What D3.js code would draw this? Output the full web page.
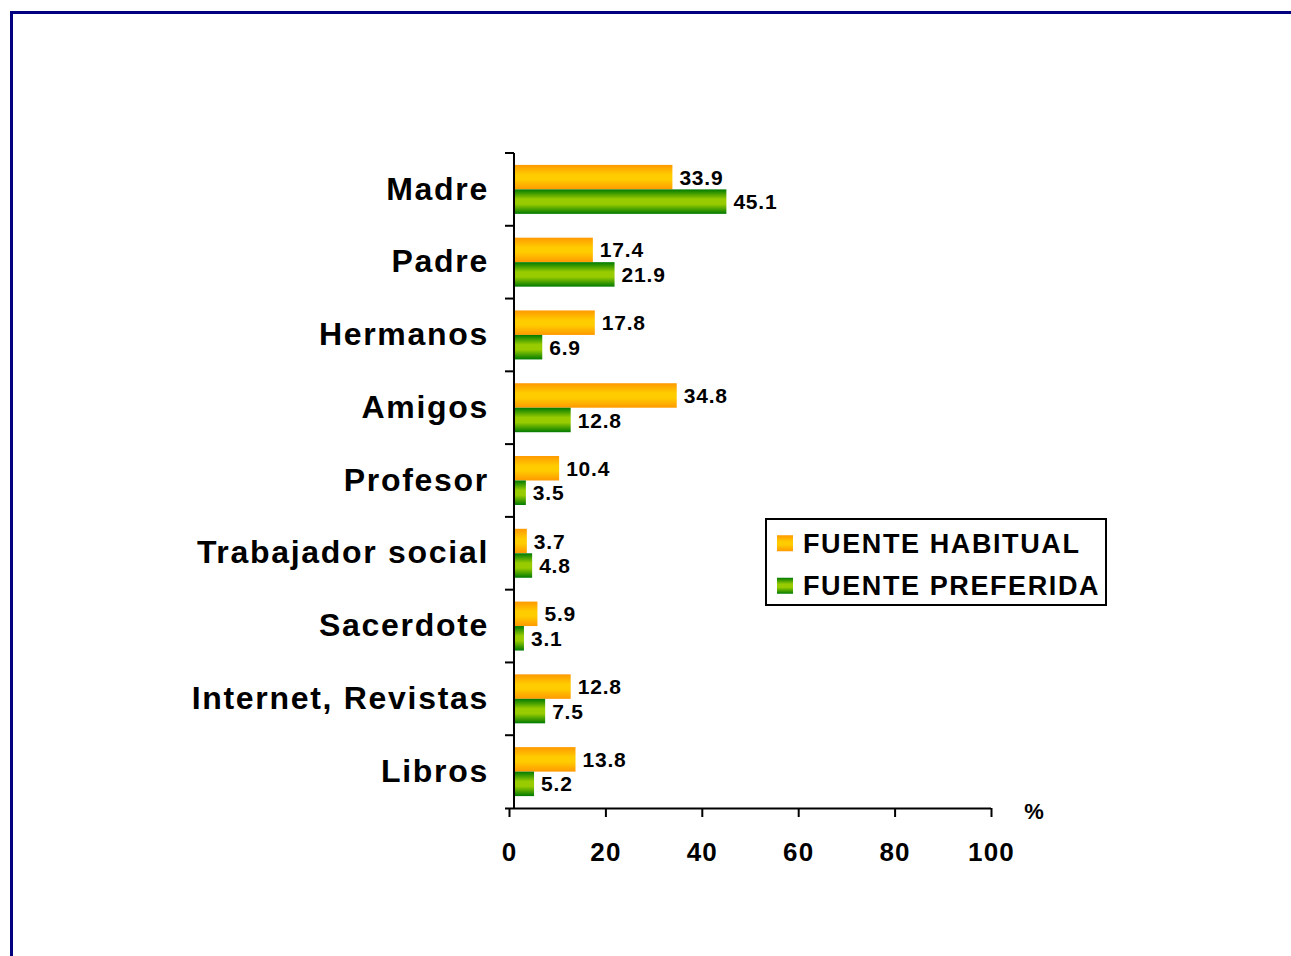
<!DOCTYPE html>
<html>
<head>
<meta charset="utf-8">
<script src="https://cdn.jsdelivr.net/npm/d3@7"></script>
<style>
  html, body { margin: 0; padding: 0; background: #ffffff; }
  svg { display: block; font-family: "Liberation Sans", Arial, sans-serif; font-weight: bold; }
</style>
</head>
<body>
<svg id="chart" width="1291" height="956"></svg>
<script>
const categories = ["Madre", "Padre", "Hermanos", "Amigos", "Profesor", "Trabajador social", "Sacerdote", "Internet, Revistas", "Libros"];
const seriesNames = ["FUENTE HABITUAL", "FUENTE PREFERIDA"];
const habitual = [33.9, 17.4, 17.8, 34.8, 10.4, 3.7, 5.9, 12.8, 13.8];
const preferida = [45.1, 21.9, 6.9, 12.8, 3.5, 4.8, 3.1, 7.5, 5.2];
const xTicks = [0, 20, 40, 60, 80, 100];

const seriesValues = [habitual, preferida];
const gradIds = ["gOrange", "gGreen"];

const svg = d3.select("#chart");

// Frame border (dark navy)
svg.append("path")
  .attr("d", "M11.5,956 L11.5,12.5 L1291,12.5")
  .attr("fill", "none").attr("stroke", "#000080").attr("stroke-width", 3);

// Gradients
const defs = svg.append("defs");
function grad(id, edge, mid) {
  const g = defs.append("linearGradient").attr("id", id)
    .attr("x1", 0).attr("y1", 0).attr("x2", 0).attr("y2", 1);
  g.append("stop").attr("offset", "0%").attr("stop-color", edge);
  g.append("stop").attr("offset", "40%").attr("stop-color", mid);
  g.append("stop").attr("offset", "60%").attr("stop-color", mid);
  g.append("stop").attr("offset", "100%").attr("stop-color", edge);
}
grad("gOrange", "#FF9900", "#FFCC00");
grad("gGreen", "#007A00", "#99CC00");

const x = d3.scaleLinear().domain([0, 100]).range([509, 991]);
const yAxisX = 514;
const plotTop = 153, plotBottom = 808;

const y = d3.scaleBand().domain(categories).range([plotTop, plotBottom]).padding(0);
const ySub = d3.scaleBand().domain(seriesNames).range([0, y.bandwidth()])
  .paddingInner(0).paddingOuter(0.486);

// Bars
seriesNames.forEach((s, si) => {
  const vals = seriesValues[si];
  const g = svg.append("g");
  g.selectAll("rect").data(categories).join("rect")
    .attr("x", yAxisX)
    .attr("y", c => y(c) + ySub(s))
    .attr("width", (c, i) => Math.max(0, x(vals[i]) - yAxisX))
    .attr("height", ySub.bandwidth())
    .attr("fill", `url(#${gradIds[si]})`);
  g.selectAll("text").data(categories).join("text")
    .attr("x", (c, i) => x(vals[i]) + 7)
    .attr("y", c => y(c) + ySub(s) + ySub.bandwidth() / 2)
    .attr("dy", "0.36em")
    .attr("font-size", 21)
    .attr("letter-spacing", 0.8)
    .attr("fill", "#000")
    .text((c, i) => vals[i].toFixed(1));
});

// Y axis line & ticks
svg.append("line").attr("x1", yAxisX).attr("x2", yAxisX)
  .attr("y1", plotTop).attr("y2", plotBottom)
  .attr("stroke", "#000").attr("stroke-width", 2);
const boundaries = categories.map(c => y(c));
svg.selectAll("line.ytick").data(boundaries).join("line")
  .attr("class", "ytick")
  .attr("x1", yAxisX - 9).attr("x2", yAxisX)
  .attr("y1", d => d).attr("y2", d => d)
  .attr("stroke", "#000").attr("stroke-width", 2);

// Category labels
svg.selectAll("text.cat").data(categories).join("text")
  .attr("class", "cat")
  .attr("x", 489)
  .attr("y", c => y(c) + y.bandwidth() / 2 - 1)
  .attr("dy", "0.35em")
  .attr("text-anchor", "end")
  .attr("font-size", 32)
  .attr("letter-spacing", 1.7)
  .attr("fill", "#000")
  .text(c => c);

// X axis
const xAxis = svg.append("g").attr("transform", `translate(0,${plotBottom})`)
  .call(d3.axisBottom(x).tickValues(xTicks).tickSize(9).tickSizeOuter(0).tickFormat(d3.format("d")));
xAxis.select(".domain").attr("stroke", "#000").attr("stroke-width", 2)
  .attr("d", `M${x(0) - 4},0.5H${x(100)}`);
xAxis.selectAll(".tick line").attr("stroke", "#000").attr("stroke-width", 2);
xAxis.selectAll(".tick text")
  .attr("font-family", "Liberation Sans, Arial, sans-serif")
  .attr("font-weight", "bold")
  .attr("font-size", 26)
  .attr("letter-spacing", 1.2)
  .attr("fill", "#000")
  .attr("y", 44).attr("dy", "0.35em");

svg.append("text")
  .attr("x", 1034).attr("y", 811).attr("dy", "0.35em")
  .attr("text-anchor", "middle").attr("font-size", 22).attr("fill", "#000")
  .text("%");

// Legend
const lg = svg.append("g");
lg.append("rect").attr("x", 766).attr("y", 519).attr("width", 340).attr("height", 86)
  .attr("fill", "#fff").attr("stroke", "#000").attr("stroke-width", 2);
const legY = d3.scaleBand().domain(seriesNames).range([522, 607]).padding(0);
seriesNames.forEach((s, si) => {
  const cy = legY(s) + legY.bandwidth() / 2;
  lg.append("rect").attr("x", 777).attr("y", cy - 8).attr("width", 16).attr("height", 16)
    .attr("fill", `url(#${gradIds[si]})`);
  lg.append("text").attr("x", 803).attr("y", cy).attr("dy", "0.36em")
    .attr("font-size", 27).attr("letter-spacing", 1.6).attr("fill", "#000")
    .text(s);
});
</script>
</body>
</html>
